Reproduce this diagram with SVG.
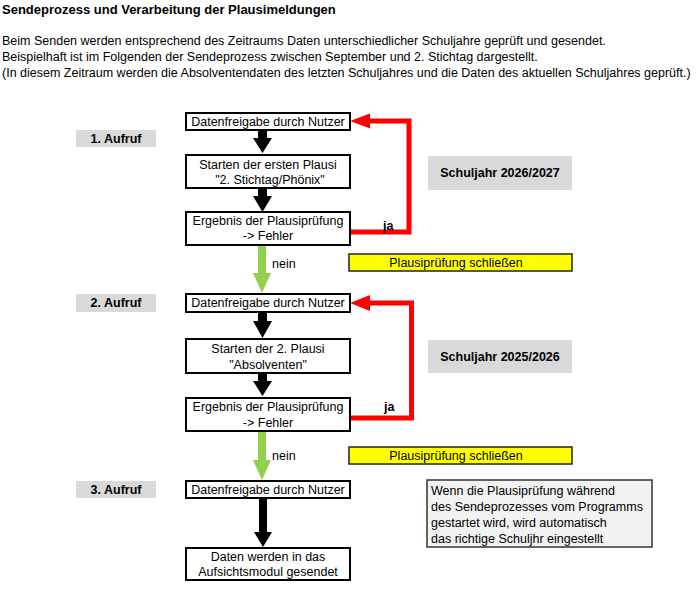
<svg xmlns="http://www.w3.org/2000/svg" width="700" height="589" viewBox="0 0 700 589">
<style>
text{font-family:"Liberation Sans",Arial,sans-serif;font-size:12.5px;fill:#000}
.t{font-weight:bold;font-size:13px}
.b{font-weight:bold}
.c{text-anchor:middle}
.box{fill:#fff;stroke:#000;stroke-width:2}
.lab{fill:#d9d9d9}
.yel{fill:#ffff00;stroke:#222;stroke-width:1.5}
.note{fill:#f2f2f2;stroke:#333;stroke-width:1.5}
.red{fill:none;stroke:#ff0000;stroke-width:5}
</style>
<rect width="700" height="589" fill="#fff"/>
<text class="t" x="2" y="14">Sendeprozess und Verarbeitung der Plausimeldungen</text>
<text x="2" y="45">Beim Senden werden entsprechend des Zeitraums Daten unterschiedlicher Schuljahre geprüft und gesendet.</text>
<text x="2" y="61">Beispielhaft ist im Folgenden der Sendeprozess zwischen September und 2. Stichtag dargestellt.</text>
<text x="2" y="77">(In diesem Zeitraum werden die Absolventendaten des letzten Schuljahres und die Daten des aktuellen Schuljahres geprüft.)</text>

<g id="connectors">
<path d="M258,130 h9 v8 h5 l-9.5,15 l-9.5,-15 h5z" fill="#000"/>
<path d="M258,188 h9 v8 h5 l-9.5,16 l-9.5,-16 h5z" fill="#000"/>
<path d="M258,245 h8 v28 h5 l-9,20 l-9,-20 h5z" fill="#92d050"/>
<path d="M258,312 h9 v9 h5 l-9.5,17 l-9.5,-17 h5z" fill="#000"/>
<path d="M258,373 h9 v8 h5 l-9.5,15 l-9.5,-15 h5z" fill="#000"/>
<path d="M258,431 h8 v29 h5 l-9,20 l-9,-20 h5z" fill="#92d050"/>
<path d="M259,498 h8 v34 h5 l-9,15 l-9,-15 h5z" fill="#000"/>
<path class="red" d="M351,232 H409 V121 H370"/>
<path d="M370,113.5 L350,121 L370,128.5z" fill="#ff0000"/>
<path class="red" d="M351,418 H411.5 V303 H370"/>
<path d="M370,295 L350,303 L370,311z" fill="#ff0000"/>
<text class="b" x="383" y="230">ja</text>
<text class="b" x="384" y="411">ja</text>
<text x="272" y="268">nein</text>
<text x="272" y="460">nein</text>
</g>

<g id="aufruf1"><rect class="lab" x="76" y="130" width="80" height="17"/><text class="b c" x="116" y="143">1. Aufruf</text></g>
<g id="aufruf2"><rect class="lab" x="76" y="294" width="80" height="18"/><text class="b c" x="116" y="307">2. Aufruf</text></g>
<g id="aufruf3"><rect class="lab" x="76" y="481" width="80" height="17"/><text class="b c" x="116" y="494">3. Aufruf</text></g>

<g id="n1"><rect class="box" x="186" y="113" width="164" height="17"/><text class="c" x="268" y="126">Datenfreigabe durch Nutzer</text></g>
<g id="n2"><rect class="box" x="186" y="155" width="164" height="33"/><text class="c" x="268" y="169">Starten der ersten Plausi</text><text class="c" x="270" y="184">"2. Stichtag/Phönix"</text></g>
<g id="n3"><rect class="box" x="186" y="212" width="164" height="33"/><text class="c" x="268" y="225">Ergebnis der Plausiprüfung</text><text class="c" x="268" y="240">-&gt; Fehler</text></g>

<g id="n4"><rect class="box" x="186" y="294" width="164" height="18"/><text class="c" x="268" y="307">Datenfreigabe durch Nutzer</text></g>
<g id="n5"><rect class="box" x="186" y="339" width="164" height="34"/><text class="c" x="268" y="353">Starten der 2. Plausi</text><text class="c" x="268" y="369">"Absolventen"</text></g>
<g id="n6"><rect class="box" x="186" y="398" width="164" height="33"/><text class="c" x="268" y="411">Ergebnis der Plausiprüfung</text><text class="c" x="268" y="427">-&gt; Fehler</text></g>

<g id="n7"><rect class="box" x="186" y="481" width="164" height="17"/><text class="c" x="268" y="494">Datenfreigabe durch Nutzer</text></g>
<g id="n8"><rect class="box" x="186" y="548" width="164" height="32"/><text class="c" x="268" y="561">Daten werden in das</text><text class="c" x="268" y="576">Aufsichtsmodul gesendet</text></g>

<g id="sj1"><rect class="lab" x="428" y="156" width="144" height="34"/><text class="b c" x="500" y="177">Schuljahr 2026/2027</text></g>
<g id="sj2"><rect class="lab" x="428" y="340" width="144" height="33"/><text class="b c" x="500" y="361">Schuljahr 2025/2026</text></g>

<g id="close1"><rect class="yel" x="349" y="254" width="223" height="17"/><text class="c" x="456" y="267">Plausiprüfung schließen</text></g>
<g id="close2"><rect class="yel" x="349" y="447" width="223" height="17"/><text class="c" x="456" y="460">Plausiprüfung schließen</text></g>

<g id="note"><rect class="note" x="427" y="480" width="225" height="67"/>
<text x="431" y="495">Wenn die Plausiprüfung während</text>
<text x="431" y="511">des Sendeprozesses vom Programms</text>
<text x="431" y="527">gestartet wird, wird automatisch</text>
<text x="431" y="543">das richtige Schuljhr eingestellt</text></g>
</svg>
